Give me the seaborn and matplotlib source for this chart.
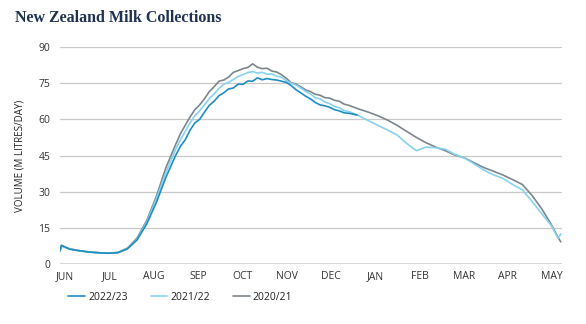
import numpy as np
import pandas as pd
import matplotlib
matplotlib.use("Agg")
import matplotlib.pyplot as plt
import seaborn as sns

# Day of season (0 = 1 June)
days = [0, 1, 7, 14, 21, 28, 35, 42, 49, 56, 63, 70, 77,
        84, 87.5, 91, 94.5, 98, 101.5, 105, 108.5, 112, 115.5, 119, 122.5,
        126, 129.5, 133, 136.5, 140, 143.5, 147, 150.5, 154, 157.5, 161,
        164.5, 168, 171.5, 175, 178.5, 182, 185.5, 189, 192.5, 196, 199.5,
        203, 206.5, 210,
        216, 224, 231, 238, 245, 252, 259, 266, 273, 280, 287, 294, 301,
        308, 315, 322, 329, 336, 343, 350, 357, 362, 364]

s2223 = [5.5, 7.8, 6.2, 5.5, 5.0, 4.7, 4.5, 4.7, 6.3, 10.0, 16.6, 25.5, 36.0,
         45.0, 48.8, 51.5, 55.5, 58.5, 60.0, 63.0, 65.8, 67.5, 69.8, 71.0,
         72.6, 73.0, 74.6, 74.5, 75.9, 75.8, 77.2, 76.4, 76.9, 76.5, 76.3,
         75.8, 75.3, 74.0, 72.3, 71.0, 69.6, 68.5, 67.0, 66.0, 65.6, 65.0,
         64.0, 63.5, 62.7, 62.5,
         61.8]

s2122 = [5.5, 7.6, 6.2, 5.5, 5.0, 4.7, 4.5, 4.7, 6.4, 10.3, 17.3, 27.0, 38.0,
         47.5, 51.5, 55.0, 58.5, 61.5, 63.5, 66.0, 68.6, 70.5, 72.8, 74.5,
         75.3, 76.5, 77.8, 78.5, 79.4, 79.8, 79.2, 79.5, 78.7, 78.8, 77.9,
         77.5, 76.0, 75.0, 74.2, 73.0, 71.6, 70.5, 69.0, 68.5, 67.2, 66.5,
         65.3, 64.8, 63.6, 63.2,
         61.8, 59.5, 57.5, 55.6, 53.5, 50.0, 47.0, 48.5, 48.2, 47.6, 45.5,
         44.0, 41.5, 39.0, 37.0, 35.5, 33.0, 30.8, 26.0, 21.0, 16.0, 10.7,
         12.5]

s2021 = [5.5, 7.5, 6.3, 5.6, 5.0, 4.7, 4.5, 4.8, 6.6, 10.8, 18.0, 28.0, 40.0,
         49.5, 54.0, 57.5, 61.0, 64.0, 66.0, 68.5, 71.5, 73.5, 75.8, 76.3,
         77.5, 79.5, 80.2, 81.0, 81.5, 83.0, 81.6, 81.0, 81.2, 80.0, 79.6,
         78.5, 77.0, 75.2, 74.6, 73.5, 72.2, 71.5, 70.4, 70.0, 69.0, 68.8,
         67.9, 67.5, 66.3, 65.8,
         64.5, 63.0, 61.5, 59.7, 57.5, 55.0, 52.5, 50.3, 48.5, 47.0, 45.2,
         44.0, 42.0, 40.0, 38.5, 36.9, 35.0, 33.0, 28.5, 23.0, 16.5, 11.0,
         9.2]

series_names = ["2022/23", "2021/22", "2020/21"]
months = ["JUN", "JUL", "AUG", "SEP", "OCT", "NOV", "DEC", "JAN", "FEB",
          "MAR", "APR", "MAY"]
yticks = [0, 15, 30, 45, 60, 75, 90]

colors = {"2022/23": "#1f8dc4", "2021/22": "#86d2ef", "2020/21": "#7b878d"}

frames = []
for name, vals in zip(series_names, [s2223, s2122, s2021]):
    frames.append(pd.DataFrame({"day": days[:len(vals)], "value": vals,
                                "season": name}))
df = pd.concat(frames, ignore_index=True)

sns.set_theme(style="white")
plt.rcParams["font.family"] = ["Open Sans", "DejaVu Sans"]

fig = plt.figure(figsize=(5.86, 3.24), dpi=100)
ax = fig.add_axes([0.1024, 0.185, 0.857, 0.670])

# draw order: grey, light, dark on top
for name in ["2020/21", "2021/22", "2022/23"]:
    sub = df[df["season"] == name]
    sns.lineplot(data=sub, x="day", y="value", ax=ax, color=colors[name],
                 linewidth=1.2, label=name, estimator=None, sort=False)

ax.set_xlim(0, 365)
ax.set_ylim(0, 90)
ax.set_yticks(yticks)
ax.set_yticklabels([str(t) for t in yticks], fontsize=7.5, color="#333333")
tick_pos = np.linspace(3.6, 357.8, len(months))
ax.set_xticks(tick_pos)
ax.set_xticklabels(months, fontsize=7.5, color="#333333")
ax.tick_params(axis="y", length=0, pad=7)
ax.tick_params(axis="x", length=0, pad=5)

for t in yticks[1:]:
    ax.axhline(t, color="#c9c9c9", linewidth=0.9, zorder=0)
ax.axhline(0, color="#d4d4d4", linewidth=2.0, zorder=0)

for s in ax.spines.values():
    s.set_visible(False)

ax.set_xlabel("")
ax.set_ylabel("VOLUME (M LITRES/DAY)", fontsize=7, color="#222222", labelpad=9)

handles, labels = ax.get_legend_handles_labels()
order = [labels.index(n) for n in series_names]
ax.legend([handles[i] for i in order], [labels[i] for i in order],
          loc="upper left", bbox_to_anchor=(-0.002, -0.085), ncol=3,
          frameon=False, fontsize=7.5, handlelength=1.6, handletextpad=0.3,
          columnspacing=2.2, labelcolor="#222222")

fig.text(0.026, 0.945, "New Zealand Milk Collections", fontsize=11.5,
         fontweight="bold", family="Liberation Serif", color="#1f3251",
         va="center", ha="left")

fig.savefig("out.png", dpi=100)
